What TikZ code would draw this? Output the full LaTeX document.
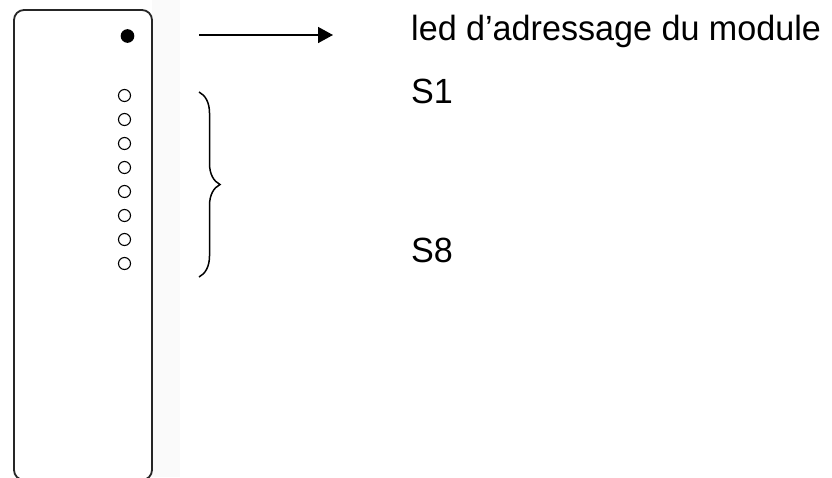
\documentclass[tikz,border=0pt]{standalone}
\usepackage{fontspec}
\setmainfont{Liberation Sans}
\newfontfamily\lblfont[FakeStretch=0.975]{Liberation Sans}
\usetikzlibrary{arrows.meta,decorations.pathreplacing}
\tikzset{
  panel/.style={draw=black!85, line width=1.8pt, rounded corners=10pt},
  led/.style={circle, draw=black, line width=1.1pt, inner sep=0pt, minimum size=12pt},
  ledon/.style={led, fill=black, minimum size=12.5pt},
  lbl/.style={anchor=base west, inner sep=0pt, font=\lblfont\fontsize{35}{40}\selectfont},
  pointer/.style={line width=1.6pt, -{Triangle[length=15pt,width=16pt]}},
  bracket/.style={line width=1.5pt, decorate, decoration={brace, amplitude=21pt}}
}
\begin{document}
\begin{tikzpicture}[x=1pt, y=-1pt]
\useasboundingbox (0,0) rectangle (832,477);
\clip (0,0) rectangle (832,477);
\fill[black!2] (152,0) rectangle (180,477);
\draw[panel] (14,10) rectangle (152,480);
\node[ledon] (adr) at (127.5,36) {};
\foreach \i in {1,...,8} {
  \node[led] (s\i) at (124.5,{95.5+(\i-1)*24}) {};
}
\coordinate (a1) at (199,35);
\coordinate (a2) at (333,35);
\draw[pointer] (a1) -- (a2);
\coordinate (b1) at (199,92);
\coordinate (b2) at (199,277);
\draw[bracket] (b1) -- (b2);
\node[lbl] (tadr) at (411,40) {led d’adressage du module};
\node[lbl] (ts1) at (411,103) {S1};
\node[lbl] (ts8) at (411,262) {S8};
\end{tikzpicture}
\end{document}
